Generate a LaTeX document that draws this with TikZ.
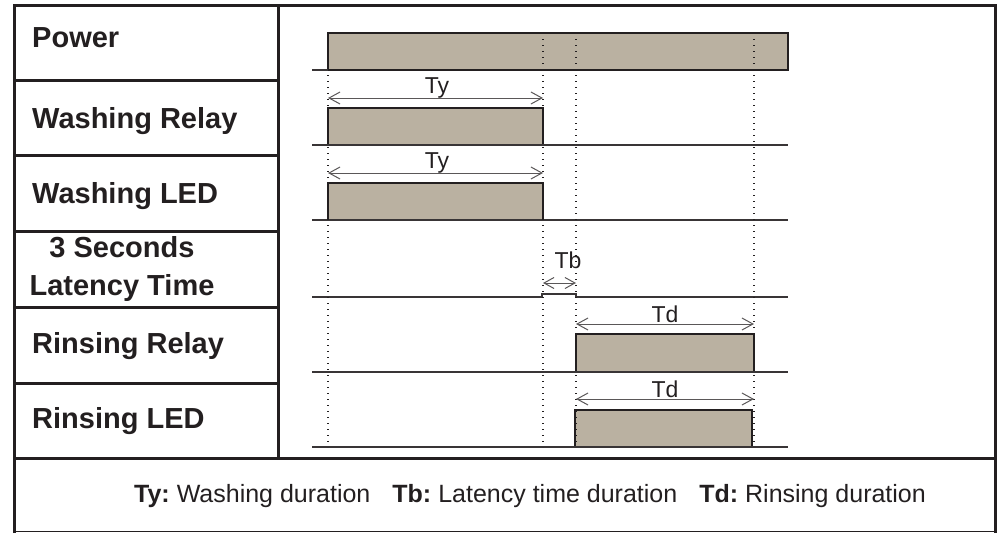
\documentclass[tikz,border=0pt]{standalone}
\usepackage{fontspec}
\setmainfont{Liberation Sans}
\usetikzlibrary{arrows.meta}
\definecolor{pulsefill}{RGB}{186,177,161}
\definecolor{ink}{RGB}{35,31,32}
\tikzset{
  framepen/.style={draw=ink, line width=3pt},
  lbl/.style={anchor=base west, inner sep=0pt, text=ink, font=\fontsize{29}{31}\selectfont\bfseries},
  lblc/.style={anchor=base, inner sep=0pt, text=ink, font=\fontsize{29}{31}\selectfont\bfseries},
  sigline/.style={draw=ink!90, line width=1.6pt},
  pulsebox/.style={fill=pulsefill, draw=ink, line width=1.6pt},
  guide/.style={draw=ink, line width=1.4pt, dash pattern=on 1.4pt off 4.6pt},
  dimarrow/.style={draw=ink!75, line width=1pt, {Straight Barb[length=11pt,width=12pt]}-{Straight Barb[length=11pt,width=12pt]}},
  dimtxt/.style={anchor=base, inner sep=0pt, text=ink, font=\fontsize{23}{25}\selectfont},
}
\begin{document}
\begin{tikzpicture}[x=1pt, y=-1pt]
\useasboundingbox (0,0) rectangle (999,533);
% frame
\draw[draw=ink, line width=1.2pt] (14,531.5) -- (995,531.5);
\draw[framepen] (14,533) -- (14,5) -- (995,5) -- (995,533);
\draw[framepen] (278,5) -- (278,458);
\foreach \yy in {80,155,231,307,383}{\draw[framepen] (14,\yy) -- (278,\yy);}
\draw[framepen] (14,458) -- (995,458);
% labels
\node[lbl] (lpow) at (32,47) {Power};
\node[lbl] (lwr) at (32,128) {Washing Relay};
\node[lbl] (lwl) at (32,203) {Washing LED};
\node[lblc] (l3s) at (122,257) {3 Seconds};
\node[lblc] (llt) at (122,295) {Latency Time};
\node[lbl] (lrr) at (32,353) {Rinsing Relay};
\node[lbl] (lrl) at (32,428) {Rinsing LED};
% guides
\coordinate (g0a) at (328,75); \coordinate (g0b) at (328,447);
\coordinate (g1a) at (543,33); \coordinate (g1b) at (543,447);
\coordinate (g2a) at (576,33); \coordinate (g2b) at (576,447);
\coordinate (g3a) at (754,33); \coordinate (g3b) at (754,447);
% pulses
\draw[pulsebox] (328,33) rectangle (788,70);
\draw[sigline] (312,70) -- (328,70);
\draw[pulsebox] (328,108) rectangle (543,145);
\draw[sigline] (312,145) -- (788,145);
\draw[pulsebox] (328,183) rectangle (543,220);
\draw[sigline] (312,220) -- (788,220);
\draw[sigline] (312,297) -- (542,297) -- (542,294) -- (576,294) -- (576,297) -- (788,297);
\draw[pulsebox] (576,334) rectangle (754,372);
\draw[sigline] (312,372) -- (788,372);
\draw[pulsebox] (575,410) rectangle (752,447);
\draw[sigline] (312,447) -- (788,447);
\foreach \i in {0,1,2,3}{\draw[guide] (g\i a) -- (g\i b);}
% dimensions
\coordinate (ty1a) at (328,98);  \coordinate (ty1b) at (543,98);
\coordinate (ty2a) at (328,173); \coordinate (ty2b) at (543,173);
\coordinate (tba) at (543,283);  \coordinate (tbb) at (576,283);
\coordinate (td1a) at (576,324); \coordinate (td1b) at (754,324);
\coordinate (td2a) at (576,399); \coordinate (td2b) at (754,399);
\draw[dimarrow] (ty1a) -- (ty1b);
\draw[dimarrow] (ty2a) -- (ty2b);
\draw[dimarrow, {Straight Barb[length=10pt,width=11pt]}-{Straight Barb[length=10pt,width=11pt]}] (tba) -- (tbb);
\draw[dimarrow] (td1a) -- (td1b);
\draw[dimarrow] (td2a) -- (td2b);
\node[dimtxt] (nty1) at (437,93) {Ty};
\node[dimtxt] (nty2) at (437,168) {Ty};
\node[dimtxt] (ntb) at (568,268) {Tb};
\node[dimtxt] (ntd1) at (665,322) {Td};
\node[dimtxt] (ntd2) at (665,397) {Td};
% legend
\node[anchor=base, inner sep=0pt, text=ink, font=\fontsize{25}{27}\selectfont] (legend) at (530,502)
  {\textbf{Ty:}\hspace{7pt}Washing duration\hspace{22pt}\textbf{Tb:}\hspace{7pt}Latency time duration\hspace{22pt}\textbf{Td:}\hspace{7pt}Rinsing duration};
\end{tikzpicture}
\end{document}
